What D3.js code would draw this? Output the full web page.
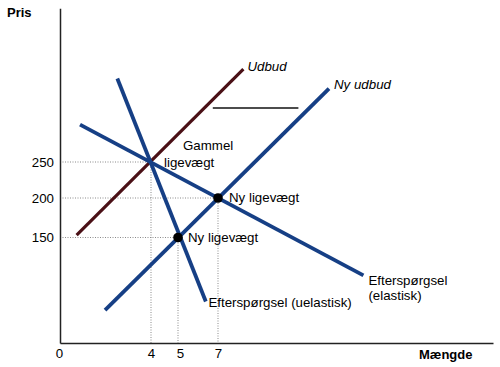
<!DOCTYPE html>
<html><head><meta charset="utf-8">
<script src="https://cdn.jsdelivr.net/npm/d3@7"></script>
<style>body{margin:0;background:#fff}svg{display:block;font-family:"Liberation Sans",Arial,sans-serif}</style>
</head><body>
<svg id="c" width="500" height="367"></svg>
<script>
// ---- data ----
const xTicks = [0, 4, 5, 7];
const yTicks = [150, 200, 250];
const supplyOld = [[0.73, 153], [8.27, 379]];
const supplyNew = [[1.98, 58], [12.55, 352]];
const demandElastic = [[0.88, 302], [14.27, 102]];
const demandInelastic = [[2.52, 366], [6.39, 69]];
const shiftLine = [[6.74, 325], [11.02, 325]];
const equilibria = [
  {q: 4, p: 250, dot: false},
  {q: 7, p: 200, dot: true},
  {q: 5, p: 150, dot: true}
];
const xLabel = "Mængde", yLabel = "Pris";

// ---- scales (hand-drawn diagram: piecewise) ----
const x = d3.scaleLinear().domain([0, 4, 5, 7, 20.75]).range([60, 151, 178, 218, 493]);
const y = d3.scaleLinear().domain([16.5, 150, 200, 250, 463.5]).range([343, 237.5, 198, 162, 8.3]);

const svg = d3.select("#c");
const blue = "#163f85", maroon = "#4a1016";
const fs = 13.3;

// dotted guides
const g = svg.append("g").attr("stroke", "#8a8a8a").attr("stroke-width", 1).attr("stroke-dasharray", "1,1.5");
equilibria.forEach(e => {
  g.append("line").attr("x1", x(0)).attr("x2", x(e.q)).attr("y1", y(e.p)).attr("y2", y(e.p));
  g.append("line").attr("x1", x(e.q)).attr("x2", x(e.q)).attr("y1", y(e.p)).attr("y2", y.range()[0]);
});

// axes
const xAxis = svg.append("g").attr("transform", `translate(0,${y.range()[0]})`)
  .call(d3.axisBottom(x).tickValues(xTicks).tickSize(0).tickSizeOuter(0).tickPadding(6));
const yAxis = svg.append("g").attr("transform", `translate(${x.range()[0]},0)`)
  .call(d3.axisLeft(y).tickValues(yTicks).tickSize(0).tickSizeOuter(0).tickPadding(6));
[xAxis, yAxis].forEach(a => {
  a.select(".domain").attr("stroke", "#222").attr("stroke-width", 1.5);
  a.selectAll("text").attr("font-size", fs).attr("fill", "#000").attr("font-family", "Liberation Sans, Arial, sans-serif");
});
xAxis.selectAll(".tick").filter(d => d === 5).select("text").attr("dx", 2);
xAxis.selectAll(".tick").filter(d => d === 0).select("text").attr("dx", -1);

svg.append("text").attr("x", 7).attr("y", 17).attr("font-size", 13).attr("font-weight", "bold").text(yLabel);
svg.append("text").attr("x", 419).attr("y", 359).attr("font-size", 13).attr("font-weight", "bold").text(xLabel);

// curves
const line = d3.line().x(d => x(d[0])).y(d => y(d[1]));
svg.append("path").datum(supplyOld).attr("d", line).attr("stroke", maroon).attr("stroke-width", 3.2).attr("fill", "none");
[supplyNew, demandElastic, demandInelastic].forEach(s =>
  svg.append("path").datum(s).attr("d", line).attr("stroke", blue).attr("stroke-width", 3.8).attr("fill", "none"));
svg.append("path").datum(shiftLine).attr("d", line).attr("stroke", "#111").attr("stroke-width", 1.5).attr("fill", "none");

// equilibrium dots
svg.selectAll("circle.eq").data(equilibria.filter(e => e.dot)).join("circle")
  .attr("cx", e => x(e.q)).attr("cy", e => y(e.p)).attr("r", 4.8).attr("fill", "#000");

// labels
const lab = (px, py, t, it) => svg.append("text").attr("x", px).attr("y", py).attr("font-size", fs)
  .attr("font-style", it ? "italic" : null).attr("fill", "#000").text(t);
const endOf = s => [x(s[1][0]), y(s[1][1])];
let p = endOf(supplyOld); lab(p[0] + 4, p[1] + 1.5, "Udbud", true);
p = endOf(supplyNew); lab(p[0] + 5, p[1] + 0.7, "Ny udbud", true);
lab(x(4) + 32, y(250) - 12, "Gammel");
lab(x(4) + 13, y(250) + 4.7, "ligevægt");
lab(x(7) + 11, y(200) + 3.7, "Ny ligevægt");
lab(x(5) + 10, y(150) + 4.2, "Ny ligevægt");
p = endOf(demandInelastic); lab(p[0] + 2.6, p[1] + 5.6, "Efterspørgsel (uelastisk)");
p = endOf(demandElastic); lab(p[0] + 5, p[1] + 9.3, "Efterspørgsel"); lab(p[0] + 5, p[1] + 24.3, "(elastisk)");
</script>
</body></html>
